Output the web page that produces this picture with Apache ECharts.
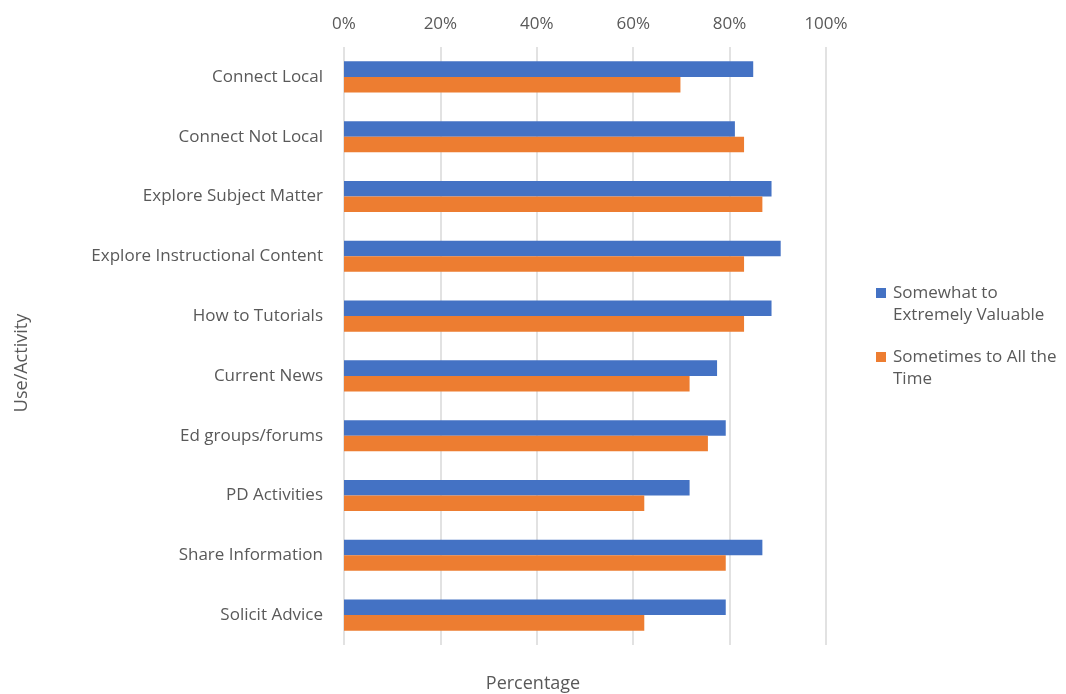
<!DOCTYPE html>
<html>
<head>
<meta charset="utf-8">
<script src="https://cdn.jsdelivr.net/npm/echarts@6/dist/echarts.min.js"></script>
<style>
  html, body { margin: 0; padding: 0; background: #fff; }
  #chart { width: 1066px; height: 694px; }
</style>
</head>
<body>
<div id="chart"></div>
<script>
// Use/activity categories, top to bottom
const categories = [
  'Connect Local',
  'Connect Not Local',
  'Explore Subject Matter',
  'Explore Instructional Content',
  'How to Tutorials',
  'Current News',
  'Ed groups/forums',
  'PD Activities',
  'Share Information',
  'Solicit Advice'
];

// Percent of respondents
const valuable = [84.9, 81.1, 88.7, 90.6, 88.7, 77.4, 79.2, 71.7, 86.8, 79.2];
const frequency = [69.8, 83.0, 86.8, 83.0, 83.0, 71.7, 75.5, 62.3, 79.2, 62.3];

const seriesNames = ['Somewhat to\nExtremely Valuable', 'Sometimes to All the\nTime'];
const xTicks = [0, 20, 40, 60, 80, 100];

const font = 'Open Sans, sans-serif';
const textColor = '#595959';

// square swatch sitting at the top of a taller box, so it lines up with the first text line
const swatch = 'path://M0,0L10,0L10,10L0,10Z M0,31.99L10,31.99L10,32L0,32Z';

const chart = echarts.init(document.getElementById('chart'));
chart.setOption({
  animation: false,
  textStyle: { fontFamily: font },
  grid: { left: 344, right: 240, top: 47, bottom: 49, containLabel: false },
  legend: {
    orient: 'vertical',
    left: 876,
    top: 282,
    padding: 0,
    itemWidth: 10,
    itemHeight: 32,
    itemGap: 20,
    icon: swatch,
    data: seriesNames,
    textStyle: { color: textColor, fontSize: 17, fontFamily: font, lineHeight: 22, padding: [0, 0, 0, 2] }
  },
  xAxis: {
    type: 'value',
    position: 'top',
    min: xTicks[0],
    max: xTicks[xTicks.length - 1],
    interval: 20,
    axisLine: { show: false },
    axisTick: { show: false },
    axisLabel: { color: textColor, fontSize: 17, margin: 14, formatter: v => v + '%' },
    splitLine: { lineStyle: { color: '#d9d9d9', width: 1.5 } }
  },
  yAxis: {
    type: 'category',
    inverse: true,
    data: categories,
    axisLine: { show: false },
    axisTick: { show: false },
    axisLabel: { color: textColor, fontSize: 17, margin: 21 }
  },
  series: [
    {
      name: seriesNames[0],
      type: 'bar',
      data: valuable,
      barGap: '0%',
      barCategoryGap: '48%',
      itemStyle: { color: '#4472C4' }
    },
    {
      name: seriesNames[1],
      type: 'bar',
      data: frequency,
      barGap: '0%',
      barCategoryGap: '48%',
      itemStyle: { color: '#ED7D31' }
    }
  ],
  graphic: [
    {
      type: 'text',
      x: 533,
      y: 684,
      style: { text: 'Percentage', fill: textColor, font: '18px ' + font, textAlign: 'center', textVerticalAlign: 'middle' }
    },
    {
      type: 'text',
      x: 22,
      y: 363,
      rotation: Math.PI / 2,
      style: { text: 'Use/Activity', fill: textColor, font: '18px ' + font, textAlign: 'center', textVerticalAlign: 'middle' }
    }
  ]
});
</script>
</body>
</html>
